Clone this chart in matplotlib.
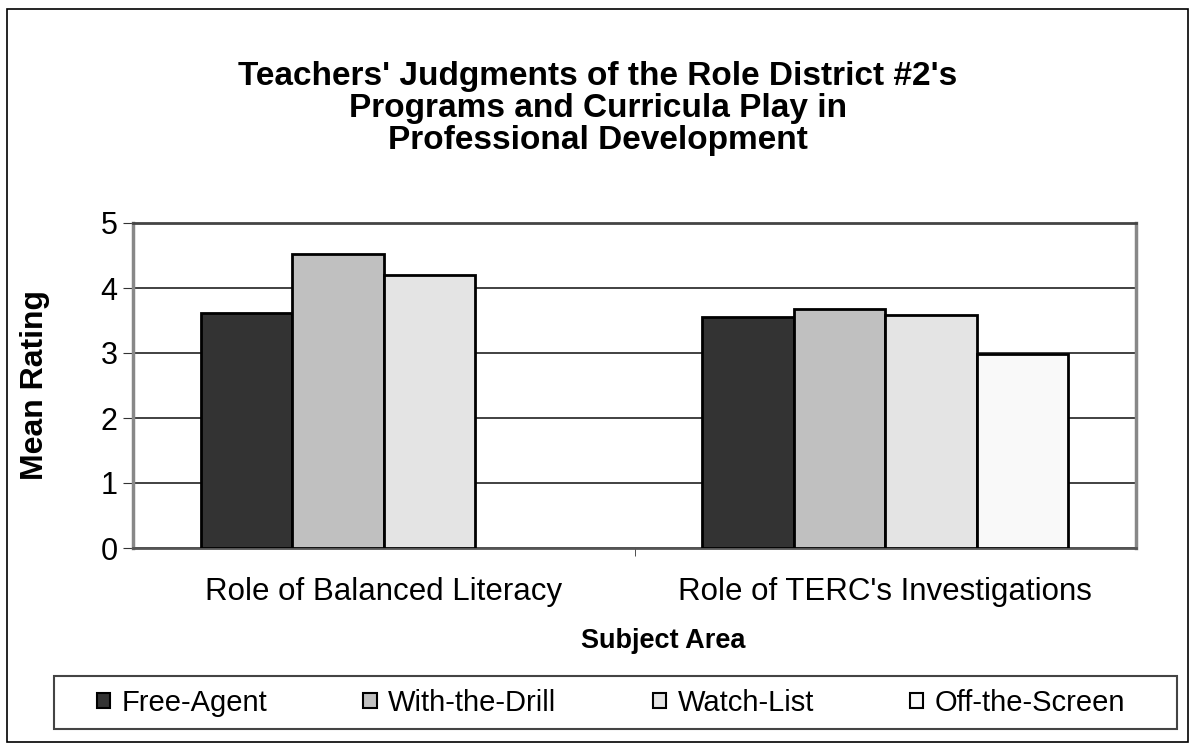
import numpy as np
import matplotlib
matplotlib.use("Agg")
from matplotlib import pyplot as plt
from matplotlib.patches import Rectangle

plt.rcParams['font.family'] = ['Liberation Sans', 'DejaVu Sans']

categories = ["Role of Balanced Literacy", "Role of TERC's Investigations"]
groups = ["Free-Agent", "With-the-Drill", "Watch-List", "Off-the-Screen"]
free_agent = [3.62, 3.55]
with_drill = [4.53, 3.67]
watch_list = [4.20, 3.59]
off_screen = [np.nan, 2.98]
colors = ["#333333", "#c0c0c0", "#e4e4e4", "#f9f9f9"]
title_lines = ["Teachers' Judgments of the Role District #2's",
               "Programs and Curricula Play in",
               "Professional Development"]

W, H = 1196, 750
fig = plt.figure(figsize=(W / 100, H / 100), dpi=100)

# outer chart border
fig.patches.append(Rectangle((7 / W, 1 - 742 / H), (1188 - 7) / W, (742 - 9) / H,
                             transform=fig.transFigure, fill=False, ec="black", lw=1.2))
# legend box
fig.patches.append(Rectangle((54 / W, 1 - 729 / H), (1177 - 54) / W, (729 - 676) / H,
                             transform=fig.transFigure, fill=False, ec="#444444", lw=1.5))

ax = fig.add_axes([133 / W, 1 - 548 / H, (1136 - 133) / W, (548 - 223) / H])

x = np.arange(len(categories))
bw = 0.1825
series = [free_agent, with_drill, watch_list, off_screen]
for i, (vals, col, name) in enumerate(zip(series, colors, groups)):
    ax.bar(x + (i - 1.5) * bw, vals, bw, color=col, edgecolor="black", linewidth=2,
           label=name, zorder=3)

ax.set_xlim(-0.5, 1.5)
ax.set_ylim(0, 5)
ax.set_yticks(range(6))
ax.yaxis.grid(True, color="#333333", lw=1.3, zorder=0)
ax.set_xticks(x)
ax.set_xticklabels(categories, fontsize=22.5)
ax.set_xticks([0.5], minor=True)
ax.tick_params(axis="x", which="major", length=0, pad=21)
ax.tick_params(axis="x", which="minor", length=6, color="#333333")
ax.tick_params(axis="y", labelsize=22, length=7, color="#333333", pad=4)

for s in ["left", "right"]:
    ax.spines[s].set_color("#888888")
    ax.spines[s].set_linewidth(2.5)
ax.spines["top"].set_color("#444444")
ax.spines["top"].set_linewidth(2)
ax.spines["bottom"].set_color("#555555")
ax.spines["bottom"].set_linewidth(2)

ax.set_ylabel("Mean Rating", fontsize=23, fontweight="bold")
ax.yaxis.set_label_coords((35 - 133) / 1003, 0.5)
ax.set_xlabel("Subject Area", fontsize=19.5, fontweight="bold")
ax.xaxis.set_label_coords((663 - 133) / 1003, -(641 - 548) / 325)
ax.xaxis.label.set_va("center")
ax.yaxis.label.set_va("center")

for k, line in enumerate(title_lines):
    fig.text(0.5, 1 - (76 + 32 * k) / H, line, ha="center", va="center",
             fontsize=24, fontweight="bold")

leg = fig.legend(loc="center", ncol=4, bbox_to_anchor=(611 / W, 1 - 703 / H),
                 bbox_transform=fig.transFigure, fontsize=21, frameon=False,
                 handlelength=0.45, handleheight=0.45, handletextpad=0.4,
                 columnspacing=3.3, borderaxespad=0)
for h in leg.legend_handles:
    h.set_linewidth(1.5)

fig.savefig("out.png", dpi=100)
